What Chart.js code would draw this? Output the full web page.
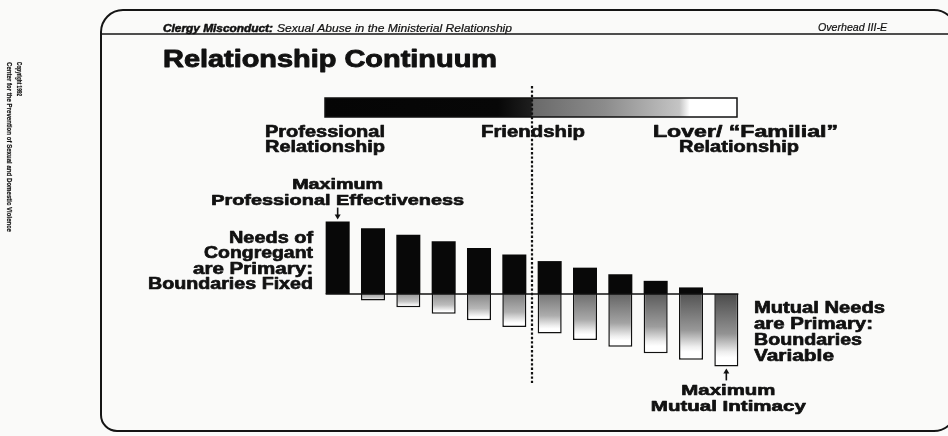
<!DOCTYPE html>
<html>
<head>
<meta charset="utf-8">
<script src="https://cdn.jsdelivr.net/npm/chart.js@4.4.0/dist/chart.umd.min.js"></script>
<style>
html,body{margin:0;padding:0;background:#fafaf9;}
#wrap{width:948px;height:436px;position:relative;}
canvas{display:block;}
</style>
</head>
<body>
<div id="wrap"><canvas id="c" width="948" height="436"></canvas></div>
<script>
// ---- data ----
const stages = ['1','2','3','4','5','6','7','8','9','10','11','12'];
const congregantNeeds = [11,10,9,8,7,6,5,4,3,2,1,0];
const mutualNeeds = [0,-1,-2,-3,-4,-5,-6,-7,-8,-9,-10,-11];
const continuumLabels = ['Professional|Relationship','Friendship','Lover/ \u201cFamilial\u201d|Relationship'];
const headerLeftBold = 'Clergy Misconduct:';
const headerLeftRest = 'Sexual Abuse in the Ministerial Relationship';
const headerRight = 'Overhead III-E';
const titleText = 'Relationship Continuum';
const leftNote = ['Needs of','Congregant','are Primary:','Boundaries Fixed'];
const rightNote = ['Mutual Needs','are Primary:','Boundaries','Variable'];
const topNote = ['Maximum','Professional Effectiveness'];
const bottomNote = ['Maximum','Mutual Intimacy'];
const copyright = ['Copyright 1992','Center for the Prevention of Sexual and Domestic Violence'];

const INK = '#111';
const F = '"Liberation Sans", Arial, sans-serif';

function txt(c, s, x, y, w, font, align, heavy) {
  c.save();
  c.font = font;
  c.textBaseline = 'alphabetic';
  c.textAlign = 'left';
  const m = c.measureText(s).width;
  const sx = w ? w / m : 1;
  const ww = m * sx;
  const x0 = align === 'right' ? x - ww : (align === 'center' ? x - ww / 2 : x);
  c.translate(x0, y);
  c.scale(sx, 1);
  c.fillStyle = INK;
  c.fillText(s, 0, 0);
  if (heavy) {
    c.strokeStyle = INK;
    c.lineJoin = 'round';
    c.lineWidth = heavy;
    c.strokeText(s, 0, 0);
  }
  c.restore();
}

function negGradient(context) {
  const chart = context.chart;
  if (!chart.chartArea || context.type !== 'data') return '#aaa';
  const ys = chart.scales.y;
  const v = context.raw;
  const y0 = ys.getPixelForValue(0), y1 = ys.getPixelForValue(v);
  if (y1 - y0 < 1) return '#fff';
  const t = context.dataIndex / (stages.length - 1);
  const L = Math.round(170 - 95 * t);
  const mid = Math.round(L + (255 - L) * 0.4);
  const g = chart.ctx.createLinearGradient(0, y0, 0, y1);
  g.addColorStop(0, `rgb(${L},${L},${L})`);
  g.addColorStop(0.55, `rgb(${mid},${mid},${mid})`);
  g.addColorStop(0.8, 'rgb(238,238,238)');
  g.addColorStop(0.88, 'rgb(255,255,255)');
  g.addColorStop(1, 'rgb(255,255,255)');
  return g;
}

const decor = {
  id: 'decor',
  beforeDraw(chart) {
    const c = chart.ctx;
    c.save();
    c.fillStyle = '#fafaf9';
    c.fillRect(0, 0, chart.width, chart.height);
    // frame
    c.strokeStyle = '#151515';
    c.lineWidth = 2;
    const L = 101, T = 10, R = 956, B = 431, r = 22;
    c.beginPath();
    c.moveTo(L + r, T);
    c.lineTo(R - r, T);
    c.arcTo(R, T, R, T + r, r);
    c.lineTo(R, B - r);
    c.arcTo(R, B, R - r, B, r);
    c.lineTo(L + 16, B);
    c.arcTo(L, B, L, B - 16, 16);
    c.lineTo(L, T + r);
    c.arcTo(L, T, L + r, T, r);
    c.stroke();
    // header separator
    c.lineWidth = 1.6;
    c.beginPath(); c.moveTo(L, 34); c.lineTo(948, 34); c.stroke();
    c.restore();

    // header texts
    txt(c, headerLeftBold, 163, 32, 110, `italic bold 10px ${F}`, 'left', 0.5);
    txt(c, headerLeftRest, 277, 32, 235, `italic 10px ${F}`, 'left', 0.2);
    txt(c, headerRight, 818, 31, 69, `italic 10px ${F}`, 'left', 0.2);
    // title
    txt(c, titleText, 163, 67, 334, `bold 23px ${F}`, 'left', 0.9);

    // continuum gradient bar
    c.save();
    const gx0 = 325, gx1 = 737, gy0 = 98, gy1 = 117;
    const g = c.createLinearGradient(gx0, 0, gx1, 0);
    g.addColorStop(0, '#050505');
    g.addColorStop(0.42, '#070707');
    g.addColorStop(0.5, '#1e1e1e');
    g.addColorStop(0.505, '#6a6a6a');
    g.addColorStop(0.68, '#8c8c8c');
    g.addColorStop(0.86, '#c4c4c4');
    g.addColorStop(0.885, '#ffffff');
    g.addColorStop(1, '#ffffff');
    c.fillStyle = g;
    c.fillRect(gx0, gy0, gx1 - gx0, gy1 - gy0);
    c.strokeStyle = '#111';
    c.lineWidth = 1.5;
    c.strokeRect(gx0, gy0, gx1 - gx0, gy1 - gy0);
    c.restore();

    // continuum labels
    const f16 = `bold 16.5px ${F}`;
    const p = continuumLabels[0].split('|');
    txt(c, p[0], 265, 137, 120, f16, 'left', 0.65);
    txt(c, p[1], 265, 152, 120, f16, 'left', 0.65);
    txt(c, continuumLabels[1], 481, 137, 104, f16, 'left', 0.65);
    const q = continuumLabels[2].split('|');
    txt(c, q[0], 653, 137, 185, f16, 'left', 0.65);
    txt(c, q[1], 739, 152, 120, f16, 'center', 0.65);

    // copyright (rotated 90deg clockwise, reads top to bottom)
    c.save();
    c.rotate(Math.PI / 2);
    txt(c, copyright[0], 62, -17, 34, `bold 7px ${F}`, 'left', 0.2);
    txt(c, copyright[1], 62, -7, 170, `bold 7px ${F}`, 'left', 0.2);
    c.restore();
  },
  afterDatasetsDraw(chart) {
    const c = chart.ctx;
    const ys = chart.scales.y;
    const m0 = chart.getDatasetMeta(0).data;
    const m1 = chart.getDatasetMeta(1).data;
    const first = m0[0], last = m1[m1.length - 1];
    const y0 = ys.getPixelForValue(0);
    // baseline
    c.save();
    c.strokeStyle = '#111';
    c.lineWidth = 1.5;
    c.beginPath();
    c.moveTo(first.x - first.width / 2, y0);
    c.lineTo(last.x + last.width / 2, y0);
    c.stroke();

    // dotted divider between stage 6 and 7
    const xd = (m0[5].x + m0[6].x) / 2;
    c.setLineDash([2.4, 2]);
    c.lineWidth = 2.2;
    c.beginPath();
    c.moveTo(xd, 86);
    c.lineTo(xd, 383);
    c.stroke();
    c.setLineDash([]);

    // arrows
    c.lineWidth = 1.6;
    c.fillStyle = '#111';
    const ax = first.x, ayTip = first.y - 2;
    c.beginPath(); c.moveTo(ax, ayTip - 12); c.lineTo(ax, ayTip - 3); c.stroke();
    c.beginPath(); c.moveTo(ax - 3, ayTip - 5); c.lineTo(ax + 3, ayTip - 5); c.lineTo(ax, ayTip); c.closePath(); c.fill();
    const bx = last.x, byTip = last.y + 2;
    c.beginPath(); c.moveTo(bx, byTip + 12); c.lineTo(bx, byTip + 3); c.stroke();
    c.beginPath(); c.moveTo(bx - 3, byTip + 5); c.lineTo(bx + 3, byTip + 5); c.lineTo(bx, byTip); c.closePath(); c.fill();
    c.restore();

    // annotations
    const f15 = `bold 15px ${F}`;
    const f16 = `bold 16px ${F}`;
    txt(c, topNote[0], ax, 189, 91, `bold 14.5px ${F}`, 'center', 0.65);
    txt(c, topNote[1], ax, 205, 253, f15, 'center', 0.65);
    const lw = [84, 109, 120, 165];
    const lb = [243, 258, 273.5, 289];
    leftNote.forEach((s, i) => txt(c, s, 313, lb[i], lw[i], f16, 'right', 0.65));
    const rw = [131, 119, 108, 80];
    const rb = [313, 329, 345, 361];
    rightNote.forEach((s, i) => txt(c, s, 754, rb[i], rw[i], f16, 'left', 0.65));
    txt(c, bottomNote[0], bx + 2, 395, 94, f15, 'center', 0.65);
    txt(c, bottomNote[1], bx + 2, 411, 155, f15, 'center', 0.65);
  }
};

new Chart(document.getElementById('c'), {
  type: 'bar',
  data: {
    labels: stages,
    datasets: [
      {
        label: 'Needs of Congregant',
        data: congregantNeeds,
        backgroundColor: '#080808',
        borderWidth: 0,
        barPercentage: 0.68,
        categoryPercentage: 1
      },
      {
        label: 'Mutual Needs',
        data: mutualNeeds,
        backgroundColor: negGradient,
        borderColor: '#111',
        borderWidth: 1.5,
        barPercentage: 0.68,
        categoryPercentage: 1
      }
    ]
  },
  options: {
    responsive: false,
    animation: false,
    devicePixelRatio: 1,
    layout: { padding: { left: 320, right: 204, top: 215, bottom: 63 } },
    plugins: { legend: { display: false }, title: { display: false }, tooltip: { enabled: false } },
    scales: {
      x: { stacked: true, display: false, grid: { display: false } },
      y: { stacked: true, display: false, min: -12, max: 12, grid: { display: false } }
    }
  },
  plugins: [decor]
});
</script>
</body>
</html>
